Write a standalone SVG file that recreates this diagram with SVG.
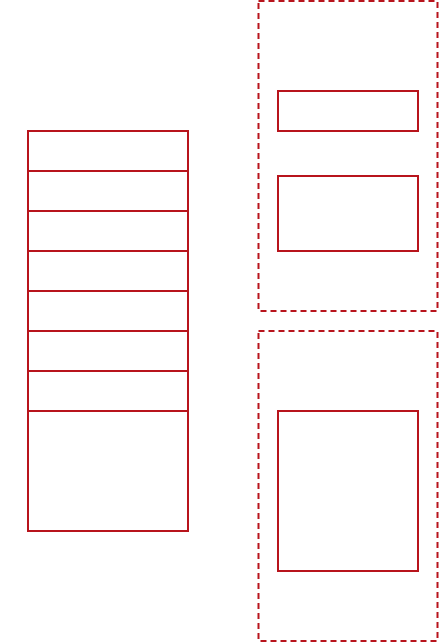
<svg xmlns="http://www.w3.org/2000/svg" width="439" height="642" viewBox="0 0 439 642">
<style>
.box{fill:#ffffff;stroke:#b8141c;stroke-width:2}
.grp{fill:none;stroke:#b8141c;stroke-width:2;stroke-dasharray:6 4}
</style>
<rect width="439" height="642" fill="#ffffff"/>
<g id="group-top"><rect class="grp" x="258.5" y="1" width="179" height="310"/></g>
<g id="group-bottom"><rect class="grp" x="258.5" y="331" width="179" height="310"/></g>
<g id="stack">
<g id="row1"><rect class="box" x="28" y="131" width="160" height="40"/></g>
<g id="row2"><rect class="box" x="28" y="171" width="160" height="40"/></g>
<g id="row3"><rect class="box" x="28" y="211" width="160" height="40"/></g>
<g id="row4"><rect class="box" x="28" y="251" width="160" height="40"/></g>
<g id="row5"><rect class="box" x="28" y="291" width="160" height="40"/></g>
<g id="row6"><rect class="box" x="28" y="331" width="160" height="40"/></g>
<g id="row7"><rect class="box" x="28" y="371" width="160" height="40"/></g>
<g id="row8"><rect class="box" x="28" y="411" width="160" height="120"/></g>
</g>
<g id="node-a"><rect class="box" x="278" y="91" width="140" height="40"/></g>
<g id="node-b"><rect class="box" x="278" y="176" width="140" height="75"/></g>
<g id="node-c"><rect class="box" x="278" y="411" width="140" height="160"/></g>
<g id="connectors"></g>
</svg>
